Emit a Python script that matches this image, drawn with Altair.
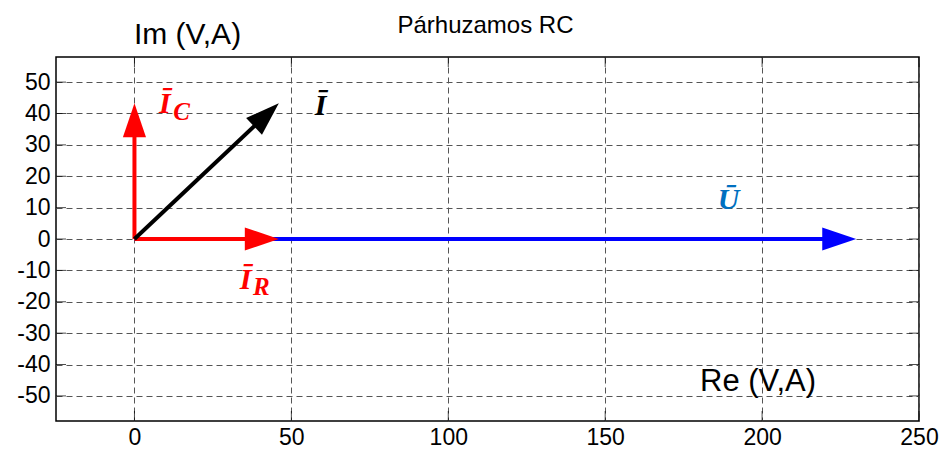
import altair as alt
import numpy as np
import pandas as pd

# Phasors of the parallel RC circuit: real and imaginary parts
phasor_names = ["U", "I_R", "I_C", "I"]
phasor_re = [230.0, 46.0, 0.0, 46.0]
phasor_im = [0.0, 0.0, 43.3, 43.3]
phasor_colors = ["#0000FF", "#FF0000", "#FF0000", "#000000"]

# Phasor labels (bar symbols and subscripts)
label_text = ["Ī", "C", "Ī", "Ī", "R", "Ū"]
label_re = [9.7, 15.0, 59.3, 35.4, 40.4, 189.3]
label_im = [40.2, 37.9, 39.5, -15.9, -17.8, 9.6]
label_colors = ["#FF0000", "#FF0000", "#000000", "#FF0000", "#FF0000", "#0070C0"]
label_sizes = [30, 25, 30, 30, 25, 30]

x_ticks = [0, 50, 100, 150, 200, 250]
y_ticks = [-50, -40, -30, -20, -10, 0, 10, 20, 30, 40, 50]
x_domain = [-25, 250]
y_domain = [-58, 58]

W, H = 863, 364
HEAD = 34   # arrowhead length in pixels
TICK = 5    # inner tick length in pixels
sx = W / (x_domain[1] - x_domain[0])
sy = H / (y_domain[1] - y_domain[0])

re = np.array(phasor_re)
im = np.array(phasor_im)
length_px = np.hypot(re * sx, im * sy)
shrink = 1 - 0.5 * HEAD / length_px

vec = pd.DataFrame({
    "name": phasor_names,
    "re": re,
    "im": im,
    "x0": 0.0,
    "y0": 0.0,
    "xe": re * shrink,
    "ye": im * shrink,
    "angle": (-np.degrees(np.arctan2(im * sy, re * sx))) % 360,
    "color": phasor_colors,
    "order": range(len(phasor_names)),
})

labels = pd.DataFrame({
    "text": label_text,
    "re": label_re,
    "im": label_im,
    "color": label_colors,
    "size": label_sizes,
})

x_scale = alt.Scale(domain=x_domain, nice=False, zero=False)
y_scale = alt.Scale(domain=y_domain, nice=False, zero=False)

# The same axis definitions go on every layer so nothing conflicts on merge
x_axis = alt.Axis(values=x_ticks, title=None, ticks=False, domain=False,
                  labelPadding=5, grid=True, labelFlush=False,
                  labelFont="Liberation Sans", labelFontSize=23,
                  labelColor="#000000",
                  labelOverlap=False, labelExpr="datum.value + ''")
y_axis = alt.Axis(values=y_ticks, title=None, ticks=False, domain=False,
                  labelPadding=6, grid=True, labelOverlap=False,
                  labelFont="Liberation Sans", labelFontSize=23,
                  labelColor="#000000",
                  labelExpr="datum.value + ''")


def X(field):
    return alt.X(field, scale=x_scale, axis=x_axis)


def Y(field):
    return alt.Y(field, scale=y_scale, axis=y_axis)


base = alt.Chart(vec)

shafts = base.mark_rule(strokeWidth=4, strokeCap="butt").encode(
    x=X("x0:Q"),
    y=Y("y0:Q"),
    x2="xe:Q",
    y2="ye:Q",
    color=alt.Color("color:N", scale=None),
    order="order:Q",
)

heads = base.mark_point(
    shape="M0,0L-2,-0.68L-2,0.68Z", size=HEAD ** 2,
    filled=True, opacity=1, strokeWidth=0,
).encode(
    x=X("re:Q"),
    y=Y("im:Q"),
    angle=alt.Angle("angle:Q", scale=None),
    color=alt.Color("color:N", scale=None),
    order="order:Q",
)

# Short inward tick marks on all four sides of the frame
ytick_df = pd.DataFrame({"v": y_ticks})
xtick_df = pd.DataFrame({"v": x_ticks})
yticks_left = alt.Chart(ytick_df).mark_tick(
    orient="horizontal", size=TICK * 2, thickness=1, xOffset=TICK, color="#000000"
).encode(y=Y("v:Q"), x=alt.value(0))
yticks_right = alt.Chart(ytick_df).mark_tick(
    orient="horizontal", size=TICK * 2, thickness=1, xOffset=-TICK, color="#000000"
).encode(y=Y("v:Q"), x=alt.value(W))
xticks_bottom = alt.Chart(xtick_df).mark_tick(
    orient="vertical", size=TICK * 2, thickness=1, yOffset=-TICK, color="#000000"
).encode(x=X("v:Q"), y=alt.value(H))
xticks_top = alt.Chart(xtick_df).mark_tick(
    orient="vertical", size=TICK * 2, thickness=1, yOffset=TICK, color="#000000"
).encode(x=X("v:Q"), y=alt.value(0))

phasor_labels = alt.Chart(labels).mark_text(
    font="Liberation Serif", fontWeight="bold", fontStyle="italic",
    align="center", baseline="alphabetic",
).encode(
    x=X("re:Q"),
    y=Y("im:Q"),
    text="text:N",
    color=alt.Color("color:N", scale=None),
    size=alt.Size("size:Q", scale=None),
)

title_txt = alt.Chart(pd.DataFrame({"t": ["Párhuzamos RC"]})).mark_text(
    font="Liberation Sans", fontSize=24, align="center", baseline="alphabetic",
    color="#000000",
).encode(x=alt.value(429.5), y=alt.value(-23.7), text="t:N")

im_title = alt.Chart(pd.DataFrame({"t": ["Im (V,A)"]})).mark_text(
    font="Liberation Sans", fontSize=30, align="center", baseline="alphabetic",
    color="#000000",
).encode(x=alt.value(131.5), y=alt.value(-12.7), text="t:N")

re_title = alt.Chart(pd.DataFrame({"t": ["Re (V,A)"]})).mark_text(
    font="Liberation Sans", fontSize=31, align="center", baseline="alphabetic",
    color="#000000",
).encode(x=alt.value(702), y=alt.value(333.7), text="t:N")

chart = alt.layer(
    shafts, heads, yticks_left, yticks_right, xticks_bottom, xticks_top,
    phasor_labels, title_txt, im_title, re_title
).properties(
    width=W,
    height=H,
    autosize=alt.AutoSizeParams(type="none"),
    padding={"left": 56, "top": 57, "right": 27, "bottom": 34},
    background="#FFFFFF",
).configure_view(
    stroke="#000000", strokeWidth=1.5,
).configure_axis(
    gridColor="#555555", gridDash=[6, 4], gridWidth=1, gridOpacity=1,
)

chart.save("out.html", embed_options={"renderer": "svg", "actions": False})
